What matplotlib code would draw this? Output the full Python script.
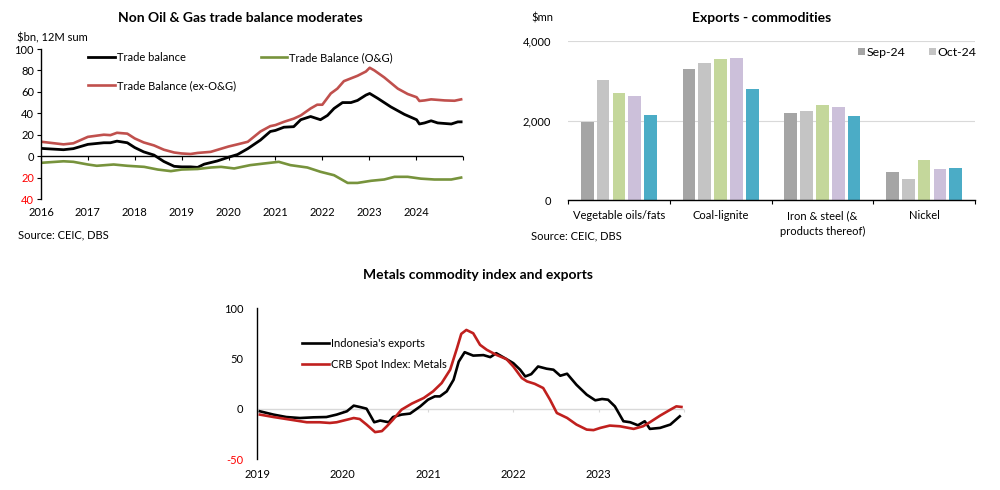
import matplotlib
matplotlib.use("Agg")
import matplotlib.pyplot as plt
from matplotlib.ticker import FuncFormatter, FixedLocator

plt.rcParams['font.family'] = ['Lato', 'DejaVu Sans']

# ---------------- Data: top-left chart ----------------
tb_x = [2016.01, 2016.48, 2016.69, 2017.0, 2017.34, 2017.48, 2017.62, 2017.84, 2018.0, 2018.19,
        2018.41, 2018.62, 2018.84, 2019.0, 2019.19, 2019.34, 2019.48, 2019.76, 2020.0, 2020.19,
        2020.41, 2020.68, 2020.89, 2021.0, 2021.18, 2021.39, 2021.54, 2021.75, 2021.96, 2022.11,
        2022.25, 2022.43, 2022.61, 2022.75, 2022.93, 2023.01, 2023.18, 2023.46, 2023.75, 2024.01,
        2024.07, 2024.18, 2024.32, 2024.46, 2024.75, 2024.89, 2024.96]
tb_y = [7.2, 6, 7, 11, 12.5, 12.5, 14, 12.5, 8, 4,
        1, -5, -9.5, -10, -10, -10.5, -7.5, -4.5, -1, 1.5,
        7, 15, 23, 24, 27, 27.5, 34, 37, 34, 38,
        44.5, 50, 50, 52, 57, 58.5, 54, 46, 39, 34,
        30, 31, 33, 31, 30, 32, 32]

ex_x = [2016.01, 2016.48, 2016.69, 2017.0, 2017.34, 2017.48, 2017.62, 2017.84, 2018.0, 2018.19,
        2018.41, 2018.62, 2018.84, 2019.0, 2019.19, 2019.34, 2019.62, 2020.0, 2020.19, 2020.41,
        2020.68, 2020.89, 2021.0, 2021.18, 2021.39, 2021.54, 2021.75, 2021.89, 2022.0, 2022.18,
        2022.32, 2022.46, 2022.75, 2022.93, 2023.01, 2023.11, 2023.32, 2023.61, 2023.82, 2024.01,
        2024.07, 2024.18, 2024.32, 2024.61, 2024.82, 2024.96]
ex_y = [13.4, 11, 12, 18, 20, 19.6, 21.8, 21, 16.5, 12.8,
        10, 6, 3.4, 2.5, 2, 3, 4, 9, 11, 13.4,
        23, 28, 29, 32, 35, 38, 44.5, 48, 48, 58.5,
        63, 70, 75, 79, 82.5, 80, 73.5, 63, 58, 55,
        51.5, 52, 53, 52, 51.7, 53]

og_x = [2016.01, 2016.48, 2016.69, 2017.0, 2017.19, 2017.55, 2017.84, 2018.2, 2018.49, 2018.77,
        2019.0, 2019.34, 2019.62, 2019.84, 2020.12, 2020.46, 2020.75, 2021.07, 2021.32, 2021.68,
        2021.96, 2022.25, 2022.54, 2022.75, 2023.04, 2023.32, 2023.54, 2023.82, 2024.1, 2024.39,
        2024.75, 2024.96]
og_y = [-6.2, -4.8, -5.3, -7.8, -9, -7.8, -9, -10, -12.5, -14,
        -12.5, -12, -10.6, -10, -11.5, -8.4, -6.9, -5.3, -8.4, -10.6,
        -14.6, -17.8, -25, -25, -23, -21.8, -19.3, -19.3, -21, -21.8,
        -21.8, -20]

tl_years = list(range(2016, 2025))
tl_yticks = [100, 80, 60, 40, 20, 0, -20, -40]

# ---------------- Data: bar chart ----------------
categories = ["Vegetable oils/fats", "Coal-lignite", "Iron & steel (&\nproducts thereof)", "Nickel"]
bar_labels = ["Sep-24", "Oct-24", "", "", ""]
bar_values = [
    [1980, 3300, 2190, 713],
    [3030, 3460, 2240, 530],
    [2710, 3550, 2390, 1005],
    [2625, 3580, 2355, 780],
    [2140, 2790, 2120, 820],
]
bar_yticks = [0, 2000, 4000]

# ---------------- Data: bottom chart ----------------
ind_x = [2019.03, 2019.19, 2019.34, 2019.5, 2019.66, 2019.81, 2019.93, 2020.05, 2020.13, 2020.2,
         2020.28, 2020.37, 2020.44, 2020.54, 2020.59, 2020.69, 2020.79, 2020.91, 2021.0, 2021.08,
         2021.14, 2021.22, 2021.3, 2021.36, 2021.43, 2021.53, 2021.65, 2021.73, 2021.8, 2021.92,
         2022.0, 2022.08, 2022.14, 2022.21, 2022.29, 2022.39, 2022.47, 2022.55, 2022.63, 2022.74,
         2022.86, 2022.96, 2023.04, 2023.11, 2023.19, 2023.29, 2023.37, 2023.46, 2023.54, 2023.6,
         2023.72, 2023.84, 2023.95]
ind_y = [-2.3, -5.6, -8, -9, -8.3, -8, -5.6, -2.3, 3.3, 2,
         0.3, -13.2, -11.5, -13.2, -8, -5.6, -4.6, 2.6, 9.2, 12.5,
         12.5, 17.5, 29, 47, 56.4, 53, 53.5, 51.5, 55.4, 49.5,
         45.5, 39, 32.3, 34.6, 42.2, 40, 39, 33, 35, 24,
         14.2, 8.6, 9.9, 9.2, 2.6, -12.2, -13.2, -16.2, -12.2, -19.8,
         -18.8, -15.5, -7.3]

crb_x = [2019.03, 2019.19, 2019.34, 2019.58, 2019.73, 2019.85, 2019.93, 2020.13, 2020.2, 2020.28,
         2020.38, 2020.46, 2020.52, 2020.59, 2020.69, 2020.81, 2020.95, 2021.06, 2021.16, 2021.26,
         2021.34, 2021.39, 2021.45, 2021.53, 2021.61, 2021.69, 2021.8, 2021.92, 2022.0, 2022.1,
         2022.16, 2022.25, 2022.35, 2022.43, 2022.51, 2022.63, 2022.74, 2022.86, 2022.94, 2023.02,
         2023.13, 2023.25, 2023.41, 2023.52, 2023.6, 2023.72, 2023.84, 2023.91, 2023.97]
crb_y = [-5.6, -8, -10, -13.2, -13.2, -13.9, -13.2, -9, -10, -15.5,
         -23, -22, -17, -10.6, -0.7, 5.3, 10.9, 17.5, 25.7, 39,
         60.4, 74.6, 78.5, 75.2, 63.7, 58.7, 53.8, 49.5, 42.2, 30.7,
         27.4, 25, 20.8, 9.2, -4, -8.9, -15.5, -20.5, -21, -18.8,
         -16.5, -17.2, -19.8, -17.2, -13.2, -6.6, -0.7, 2.6, 2]

bt_years = list(range(2019, 2024))
bt_yticks = [100, 50, 0, -50]

# ---------------- Figure ----------------
W, H = 1000, 490
fig = plt.figure(figsize=(W / 100, H / 100), dpi=100)

def px_axes(x0, y_top, x1, y_bot):
    return fig.add_axes([x0 / W, 1 - y_bot / H, (x1 - x0) / W, (y_bot - y_top) / H])

def ftext(x, y, s, **kw):
    fig.text(x / W, 1 - y / H, s, **kw)

FS = 8.0
TFS = 10.0
RED_NEG = '#ff0000'

# ===== Top-left chart =====
ax1 = px_axes(41, 49, 463, 199)
ax1.plot(tb_x, tb_y, color='black', lw=2.0, label='Trade balance')
ax1.plot(ex_x, ex_y, color='#c0504d', lw=1.9, label='Trade Balance (ex-O&G)')
ax1.plot(og_x, og_y, color='#77933c', lw=1.9, label='Trade Balance (O&G)')
ax1.set_xlim(2016, 2025)
ax1.set_ylim(-40, 100)
for s in ['top', 'right', 'bottom']:
    ax1.spines[s].set_visible(False)
ax1.spines['left'].set_color('black')
ax1.spines['left'].set_linewidth(1.0)
ax1.set_yticks(tl_yticks)
ax1.yaxis.set_major_formatter(FuncFormatter(lambda v, p: f"{abs(v):.0f}"))
ax1.tick_params(axis='y', direction='out', length=3, width=0.8, labelsize=FS, pad=2)
for lab, v in zip(ax1.get_yticklabels(), tl_yticks):
    lab.set_color(RED_NEG if v < 0 else 'black')
ax1.set_xticks(tl_years)
ax1.set_xticklabels([str(y) for y in tl_years])
ax1.tick_params(axis='x', length=0, labelsize=FS, pad=6)
ax1.axhline(0, color='black', lw=1.0, zorder=1)
sec1 = ax1.secondary_xaxis(40 / 140)
sec1.set_xticks(tl_years + [2025])
sec1.set_xticklabels([''] * (len(tl_years) + 1))
sec1.tick_params(axis='x', direction='out', length=3, width=0.8, color='black')
sec1.spines['bottom'].set_visible(False)
ax1.legend(ncol=2, loc='upper left', bbox_to_anchor=(0.088, 1.045), frameon=False,
           fontsize=FS, handlelength=2.4, handletextpad=0.2,
           columnspacing=2.2, labelspacing=1.5)

ftext(240, 18, "Non Oil & Gas trade balance moderates", ha='center', va='center',
      fontsize=TFS, fontweight='bold')
ftext(17, 38, "$bn, 12M sum", ha='left', va='center', fontsize=FS)
ftext(18, 235, "Source: CEIC, DBS", ha='left', va='center', fontsize=FS)

# ===== Bar chart =====
ax2 = px_axes(568, 41.3, 975, 200.3)
bar_colors = ['#a5a5a5', '#c4c4c4', '#c4d79b', '#ccc0da', '#4bacc6']
n = len(categories)
xs = list(range(n))
step, bw = 0.155, 0.125
for i, vals in enumerate(bar_values):
    off = (i - 2) * step
    ax2.bar([x + off for x in xs], vals, width=bw, color=bar_colors[i],
            label=bar_labels[i] if bar_labels[i] else '_nolegend_', zorder=2)
ax2.set_xlim(-0.5, n - 0.5)
ax2.set_ylim(0, 4000)
for s in ['top', 'right', 'left']:
    ax2.spines[s].set_visible(False)
ax2.spines['bottom'].set_color('black')
ax2.spines['bottom'].set_linewidth(1.0)
ax2.set_yticks(bar_yticks)
ax2.yaxis.set_major_formatter(FuncFormatter(lambda v, p: f"{v:,.0f}"))
ax2.tick_params(axis='y', length=0, labelsize=FS, pad=12)
ax2.grid(axis='y', color='#d9d9d9', lw=0.8, zorder=0)
ax2.set_xticks(xs)
ax2.set_xticklabels(categories, linespacing=1.5)
ax2.tick_params(axis='x', which='major', length=0, labelsize=FS, pad=7)
ax2.xaxis.set_minor_locator(FixedLocator([-0.5, 0.5, 1.5, 2.5, 3.5]))
ax2.tick_params(axis='x', which='minor', direction='out', length=3, width=0.8)
ax2.legend(loc='upper right', bbox_to_anchor=(1.03, 1.035), ncol=2, frameon=False,
           fontsize=FS + 0.8, handlelength=0.55, handleheight=0.55, handletextpad=0.15,
           columnspacing=1.9)

ftext(762, 18, "Exports - commodities", ha='center', va='center',
      fontsize=TFS, fontweight='bold')
ftext(531, 18, "$mn", ha='left', va='center', fontsize=FS)
ftext(531, 236, "Source: CEIC, DBS", ha='left', va='center', fontsize=FS)

# ===== Bottom chart =====
ax3 = px_axes(257.3, 308.3, 684, 459.3)
ax3.axhline(0, color='#d9d9d9', lw=1.0, zorder=1)
ax3.plot(ind_x, ind_y, color='black', lw=1.9, label="Indonesia's exports", zorder=3)
ax3.plot(crb_x, crb_y, color='#c0201e', lw=1.9, label='CRB Spot Index: Metals', zorder=3)
ax3.set_xlim(2019, 2024)
ax3.set_ylim(-50, 100)
for s in ['top', 'right', 'bottom']:
    ax3.spines[s].set_visible(False)
ax3.spines['left'].set_color('black')
ax3.spines['left'].set_linewidth(1.0)
ax3.set_yticks(bt_yticks)
ax3.yaxis.set_major_formatter(FuncFormatter(lambda v, p: f"{v:.0f}"))
ax3.tick_params(axis='y', length=0, labelsize=FS, pad=10)
for lab, v in zip(ax3.get_yticklabels(), bt_yticks):
    lab.set_color(RED_NEG if v < 0 else 'black')
ax3.set_xticks(bt_years)
ax3.set_xticklabels([str(y) for y in bt_years])
ax3.tick_params(axis='x', length=0, labelsize=FS, pad=7)
sec3 = ax3.secondary_xaxis(50 / 150)
sec3.set_xticks(bt_years + [2024])
sec3.set_xticklabels([''] * (len(bt_years) + 1))
sec3.tick_params(axis='x', direction='out', length=2, width=0.8, color='#d9d9d9')
sec3.spines['bottom'].set_visible(False)
ax3.legend(loc='upper left', bbox_to_anchor=(0.081, 0.87), frameon=False,
           fontsize=FS, handlelength=2.4, handletextpad=0.2, labelspacing=0.9)

ftext(478, 275, "Metals commodity index and exports", ha='center', va='center',
      fontsize=TFS, fontweight='bold')

fig.savefig("out.png", dpi=100)
